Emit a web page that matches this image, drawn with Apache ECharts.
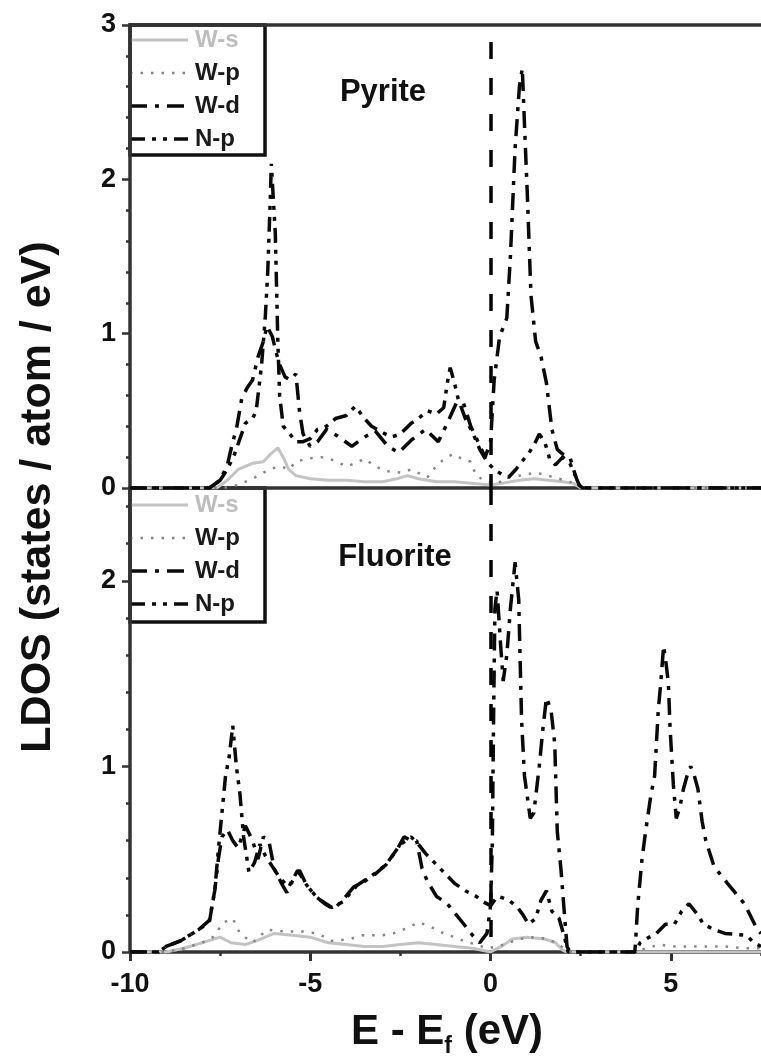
<!DOCTYPE html>
<html>
<head>
<meta charset="utf-8">
<script src="https://cdn.jsdelivr.net/npm/echarts@6/dist/echarts.min.js"></script>
<style>
  html, body { margin: 0; padding: 0; background: #fff; }
  #chart { width: 761px; height: 1058px; }
</style>
</head>
<body>
<div id="chart"></div>
<script>
// Energy axis (E - Ef, eV) and LDOS ranges of the two panels
const energyRange = [-10, 7.5];
const energyTicks = 5;
const pyriteRange = [0, 3];
const fluoriteRange = [0, 2.5];
const orbitals = ['W-s', 'W-p', 'W-d', 'N-p'];
const panelTitles = ['Pyrite', 'Fluorite'];

// Pyrite LDOS, [E - Ef, states/atom/eV]
const pyriteWs = [[-10,0],[-7.6,0],[-7.3,0.05],[-7.0,0.12],[-6.6,0.16],[-6.3,0.17],[-6.1,0.22],[-5.9,0.26],[-5.75,0.2],[-5.6,0.12],[-5.4,0.08],[-5.0,0.06],[-4.5,0.05],[-4.0,0.05],[-3.5,0.04],[-3.0,0.04],[-2.6,0.06],[-2.3,0.08],[-2.0,0.06],[-1.5,0.04],[-1.0,0.04],[-0.5,0.03],[0,0.02],[0.3,0.03],[0.8,0.05],[1.2,0.06],[1.6,0.05],[2.0,0.04],[2.3,0.03],[2.5,0],[7.5,0]];
const pyriteWp = [[-10,0],[-7.4,0],[-7.0,0.02],[-6.6,0.06],[-6.3,0.1],[-6.0,0.13],[-5.8,0.14],[-5.6,0.12],[-5.4,0.17],[-5.1,0.19],[-4.7,0.2],[-4.35,0.18],[-4.0,0.14],[-3.75,0.16],[-3.5,0.19],[-3.2,0.14],[-2.9,0.11],[-2.5,0.1],[-2.2,0.12],[-1.75,0.07],[-1.45,0.16],[-1.05,0.22],[-0.8,0.19],[-0.55,0.17],[-0.4,0.08],[-0.1,0.04],[0.2,0.03],[0.5,0.07],[0.8,0.08],[1.25,0.1],[1.6,0.08],[1.9,0.06],[2.2,0.04],[2.4,0.02],[2.6,0],[7.5,0]];
const pyriteWd = [[-10,0],[-7.8,0],[-7.5,0.05],[-7.3,0.15],[-7.15,0.3],[-7.05,0.38],[-6.9,0.58],[-6.75,0.65],[-6.6,0.7],[-6.45,0.85],[-6.3,0.95],[-6.2,1.05],[-6.05,0.98],[-5.95,0.88],[-5.85,0.8],[-5.7,0.72],[-5.55,0.7],[-5.4,0.74],[-5.3,0.5],[-5.2,0.35],[-5.0,0.27],[-4.8,0.3],[-4.55,0.38],[-4.2,0.33],[-3.85,0.27],[-3.5,0.33],[-3.2,0.37],[-2.85,0.27],[-2.55,0.23],[-2.2,0.31],[-1.8,0.38],[-1.45,0.3],[-1.2,0.42],[-0.95,0.55],[-0.75,0.55],[-0.55,0.4],[-0.35,0.3],[-0.15,0.2],[0.0,0.3],[0.1,0.7],[0.25,0.98],[0.45,1.1],[0.55,1.5],[0.68,2.2],[0.8,2.6],[0.88,2.72],[0.95,2.3],[1.02,1.9],[1.12,1.25],[1.25,0.95],[1.4,0.85],[1.55,0.68],[1.7,0.38],[1.85,0.25],[2.0,0.22],[2.2,0.2],[2.3,0.12],[2.4,0.05],[2.5,0],[7.5,0]];
const pyriteNp = [[-10,0],[-7.8,0],[-7.5,0.05],[-7.3,0.12],[-7.1,0.22],[-6.95,0.32],[-6.8,0.42],[-6.6,0.45],[-6.5,0.5],[-6.35,0.8],[-6.25,1.1],[-6.18,1.4],[-6.12,1.8],[-6.08,2.1],[-6.02,1.85],[-5.97,1.65],[-5.9,0.95],[-5.85,0.6],[-5.75,0.4],[-5.6,0.36],[-5.4,0.3],[-5.2,0.3],[-5.0,0.32],[-4.8,0.38],[-4.55,0.4],[-4.3,0.45],[-4.0,0.47],[-3.75,0.53],[-3.5,0.45],[-3.3,0.4],[-3.0,0.36],[-2.75,0.33],[-2.5,0.35],[-2.2,0.42],[-2.0,0.45],[-1.75,0.5],[-1.5,0.48],[-1.3,0.52],[-1.2,0.68],[-1.12,0.78],[-1.0,0.68],[-0.9,0.58],[-0.7,0.45],[-0.5,0.36],[-0.3,0.25],[-0.1,0.17],[0.1,0.12],[0.3,0.09],[0.5,0.07],[0.7,0.12],[0.9,0.18],[1.1,0.24],[1.25,0.3],[1.35,0.35],[1.5,0.3],[1.65,0.18],[1.8,0.15],[2.0,0.2],[2.2,0.16],[2.35,0.08],[2.45,0.02],[2.55,0],[7.5,0]];

// Fluorite LDOS, [E - Ef, states/atom/eV]
const fluoriteWs = [[-10,0],[-9.0,0],[-8.5,0.02],[-8.0,0.05],[-7.5,0.08],[-7.2,0.05],[-6.8,0.04],[-6.5,0.06],[-6.0,0.1],[-5.5,0.09],[-5.0,0.08],[-4.5,0.05],[-4.0,0.04],[-3.5,0.03],[-3.0,0.03],[-2.5,0.04],[-2.0,0.05],[-1.5,0.04],[-1.0,0.03],[-0.5,0.02],[0,0],[0.3,0.03],[0.6,0.07],[1.0,0.08],[1.5,0.07],[1.8,0.05],[2.0,0.01],[2.1,0],[7.5,0]];
const fluoriteWp = [[-10,0],[-9.0,0],[-8.5,0.02],[-8.0,0.05],[-7.7,0.08],[-7.4,0.16],[-7.15,0.18],[-6.95,0.1],[-6.6,0.05],[-6.2,0.12],[-5.7,0.11],[-5.2,0.11],[-4.8,0.1],[-4.4,0.06],[-3.9,0.07],[-3.55,0.09],[-3.0,0.09],[-2.7,0.1],[-2.3,0.13],[-2.0,0.16],[-1.7,0.14],[-1.3,0.1],[-1.0,0.08],[-0.75,0.06],[-0.4,0.04],[-0.1,0.02],[0.2,0.03],[0.5,0.05],[0.8,0.07],[1.2,0.08],[1.6,0.07],[1.9,0.04],[2.1,0.01],[2.2,0],[4.0,0],[4.3,0.02],[4.7,0.04],[5.0,0.03],[5.5,0.03],[6.0,0.03],[6.5,0.03],[7.0,0.02],[7.5,0.02]];
const fluoriteWd = [[-10,0],[-9.2,0],[-9.0,0.03],[-8.6,0.06],[-8.1,0.12],[-7.8,0.17],[-7.65,0.33],[-7.55,0.5],[-7.45,0.62],[-7.3,0.66],[-7.15,0.6],[-7.0,0.56],[-6.8,0.68],[-6.6,0.6],[-6.45,0.5],[-6.3,0.62],[-6.15,0.6],[-6.0,0.45],[-5.8,0.37],[-5.65,0.32],[-5.45,0.4],[-5.3,0.44],[-5.1,0.36],[-4.85,0.3],[-4.6,0.26],[-4.35,0.23],[-4.1,0.28],[-3.8,0.35],[-3.5,0.38],[-3.2,0.42],[-2.9,0.47],[-2.6,0.55],[-2.4,0.62],[-2.2,0.6],[-2.05,0.6],[-1.9,0.45],[-1.75,0.38],[-1.5,0.3],[-1.2,0.26],[-0.95,0.2],[-0.7,0.14],[-0.5,0.09],[-0.3,0.05],[-0.1,0.1],[0.0,0.25],[0.05,0.6],[0.08,1.2],[0.12,1.85],[0.18,1.95],[0.28,1.65],[0.35,1.46],[0.45,1.6],[0.55,1.85],[0.68,2.1],[0.78,1.9],[0.86,1.25],[0.94,0.95],[1.1,0.72],[1.2,0.75],[1.35,1.0],[1.45,1.2],[1.55,1.37],[1.68,1.3],[1.78,1.12],[1.85,0.65],[1.95,0.45],[2.05,0.2],[2.12,0.03],[2.2,0],[4.0,0],[4.02,0.05],[4.08,0.25],[4.2,0.5],[4.3,0.65],[4.45,0.85],[4.55,0.95],[4.65,1.3],[4.72,1.45],[4.8,1.65],[4.87,1.55],[4.93,1.45],[4.98,1.2],[5.07,0.9],[5.15,0.72],[5.25,0.78],[5.35,0.88],[5.45,0.95],[5.55,1.0],[5.65,0.95],[5.75,0.88],[5.87,0.7],[5.97,0.6],[6.2,0.46],[6.57,0.37],[7.04,0.26],[7.4,0.12],[7.5,0.1]];
const fluoriteNp = [[-10,0],[-9.2,0],[-9.0,0.03],[-8.6,0.06],[-8.1,0.12],[-7.8,0.16],[-7.65,0.33],[-7.55,0.55],[-7.45,0.75],[-7.35,0.95],[-7.25,1.05],[-7.15,1.22],[-7.05,1.0],[-6.95,0.85],[-6.85,0.62],[-6.7,0.43],[-6.55,0.48],[-6.4,0.58],[-6.25,0.52],[-6.05,0.46],[-5.85,0.4],[-5.6,0.35],[-5.35,0.44],[-5.1,0.36],[-4.8,0.29],[-4.4,0.24],[-4.1,0.27],[-3.7,0.36],[-3.3,0.41],[-2.9,0.47],[-2.5,0.58],[-2.2,0.62],[-2.0,0.58],[-1.8,0.53],[-1.6,0.49],[-1.3,0.43],[-1.0,0.37],[-0.7,0.33],[-0.4,0.3],[-0.2,0.27],[0,0.25],[0.2,0.3],[0.5,0.28],[0.75,0.24],[0.9,0.2],[1.05,0.15],[1.25,0.18],[1.4,0.28],[1.55,0.33],[1.7,0.22],[1.9,0.18],[2.05,0.08],[2.15,0],[4.0,0],[4.15,0.05],[4.4,0.08],[4.6,0.1],[4.85,0.15],[5.1,0.15],[5.3,0.22],[5.5,0.26],[5.75,0.2],[5.9,0.15],[6.2,0.12],[6.5,0.1],[7.1,0.09],[7.3,0.05],[7.5,0.03]];

// Line styles shared by the curves and the legend keys
const FONT = '"Liberation Sans", Arial, sans-serif';
const lineStyles = {
  'W-s': { color: '#c3c3c3', width: 3, type: 'solid' },
  'W-p': { color: '#858585', width: 2.5, type: [2.5, 8] },
  'W-d': { color: '#0a0a0a', width: 3.5, type: [17, 8, 4, 8] },
  'N-p': { color: '#0a0a0a', width: 3.5, type: [15, 7, 4, 7, 4, 7] }
};
const legendTextColor = { 'W-s': '#bdbdbd', 'W-p': '#1a1a1a', 'W-d': '#1a1a1a', 'N-p': '#1a1a1a' };

const panels = [
  { data: [pyriteWs, pyriteWp, pyriteWd, pyriteNp], fermiTop: 2.89 },
  { data: [fluoriteWs, fluoriteWp, fluoriteWd, fluoriteNp], fermiTop: 2.5 }
];

// Layout (pixels)
const L = 130, T = 25, MID = 488, B = 952;
const AXIS_COLOR = '#333';

const series = [];
panels.forEach((p, pi) => {
  orbitals.forEach((name, oi) => {
    const s = {
      name, type: 'line', xAxisIndex: pi, yAxisIndex: pi,
      data: p.data[oi], symbol: 'none', showSymbol: false,
      lineStyle: { color: lineStyles[name].color, width: lineStyles[name].width, type: lineStyles[name].type, cap: 'butt' },
      itemStyle: { color: lineStyles[name].color },
      z: 2 + oi, silent: true
    };
    if (name === 'W-d') {
      // Fermi level
      s.markLine = {
        silent: true, symbol: ['none', 'none'], label: { show: false },
        lineStyle: { color: '#000', width: 3.5, type: [17, 19] },
        data: [[{ coord: [0, p.fermiTop] }, { coord: [0, 0] }]]
      };
    }
    series.push(s);
  });
});

const tickLabel = { fontSize: 27, fontWeight: 'bold', color: '#111', fontFamily: FONT };

const xAxes = [
  { gridIndex: 0, type: 'value', position: 'bottom', min: energyRange[0], max: energyRange[1], interval: energyTicks,
    axisLine: { onZero: false, lineStyle: { color: AXIS_COLOR, width: 3.5 } },
    axisTick: { show: false }, axisLabel: { show: false }, splitLine: { show: false } },
  { gridIndex: 1, type: 'value', position: 'bottom', min: energyRange[0], max: energyRange[1], interval: energyTicks,
    axisLine: { onZero: false, lineStyle: { color: AXIS_COLOR, width: 3.5 } },
    axisTick: { show: true, inside: false, length: 9, lineStyle: { color: AXIS_COLOR, width: 3 } },
    axisLabel: Object.assign({ margin: 19, showMaxLabel: false }, tickLabel),
    splitLine: { show: false } },
  // minor ticks every 2.5 eV
  { gridIndex: 1, type: 'value', position: 'bottom', min: energyRange[0], max: energyRange[1], interval: energyTicks / 2,
    axisLine: { show: false, onZero: false }, axisTick: { show: true, length: 4, lineStyle: { color: AXIS_COLOR, width: 2.5 } },
    axisLabel: { show: false }, splitLine: { show: false } },
  // top frame line
  { gridIndex: 0, type: 'value', position: 'top', min: energyRange[0], max: energyRange[1],
    axisLine: { show: true, onZero: false, lineStyle: { color: AXIS_COLOR, width: 3.5 } },
    axisTick: { show: false }, axisLabel: { show: false }, splitLine: { show: false } }
];

const yAxes = [
  { gridIndex: 0, type: 'value', position: 'left', min: pyriteRange[0], max: pyriteRange[1], interval: 1,
    axisLine: { onZero: false, lineStyle: { color: AXIS_COLOR, width: 3.5 } },
    axisTick: { length: 8, lineStyle: { color: AXIS_COLOR, width: 2.5 } },
    minorTick: { show: true, splitNumber: 5, length: 4, lineStyle: { color: AXIS_COLOR, width: 2.5 } },
    axisLabel: Object.assign({ margin: 14 }, tickLabel), splitLine: { show: false } },
  { gridIndex: 1, type: 'value', position: 'left', min: fluoriteRange[0], max: fluoriteRange[1], interval: 1,
    axisLine: { onZero: false, lineStyle: { color: AXIS_COLOR, width: 3.5 } },
    axisTick: { length: 8, lineStyle: { color: AXIS_COLOR, width: 2.5 } },
    axisLabel: Object.assign({ margin: 14, showMaxLabel: false }, tickLabel), splitLine: { show: false } },
  // minor ticks every 0.2
  { gridIndex: 1, type: 'value', position: 'left', min: fluoriteRange[0], max: fluoriteRange[1], interval: 0.2,
    axisLine: { show: false, onZero: false }, axisTick: { length: 4, lineStyle: { color: AXIS_COLOR, width: 2.5 } },
    axisLabel: { show: false }, splitLine: { show: false } }
];

// Legend boxes drawn as graphics so the dash keys match the curves
function legendBox(top, firstY, height) {
  const children = [{
    type: 'rect', shape: { x: L, y: top, width: 135, height },
    style: { fill: '#fff', stroke: '#111', lineWidth: 3.5 }
  }];
  orbitals.forEach((name, i) => {
    const cy = firstY + i * 33;
    const st = lineStyles[name];
    children.push({
      type: 'line', shape: { x1: L, y1: cy, x2: L + 58, y2: cy },
      style: { stroke: st.color, lineWidth: st.width, lineDash: Array.isArray(st.type) ? st.type : null }
    });
    children.push({
      type: 'text', x: L + 65, y: cy,
      style: { text: name, font: 'bold 24px ' + FONT, fill: legendTextColor[name], verticalAlign: 'middle', align: 'left' }
    });
  });
  return { type: 'group', z: 100, children };
}

// Axis title with subscript, laid out with measured widths
const ctx = document.createElement('canvas').getContext('2d');
ctx.font = 'bold 42px ' + FONT; const w1 = ctx.measureText('E - E').width;
ctx.font = 'bold 23px ' + FONT; const w2 = ctx.measureText('f').width;
ctx.font = 'bold 42px ' + FONT; const w3 = ctx.measureText(' (eV)').width;
const xTitleCx = 447, xTitleCy = 1032;
const x0 = xTitleCx - (w1 + w2 + w3) / 2;

const graphic = [
  legendBox(T, 40, 130),
  legendBox(MID, 505, 134),
  { type: 'text', x: 383, y: 92, z: 50, style: { text: panelTitles[0], font: 'bold 31px ' + FONT, fill: '#111', align: 'center', verticalAlign: 'middle' } },
  { type: 'text', x: 395, y: 557, z: 50, style: { text: panelTitles[1], font: 'bold 31px ' + FONT, fill: '#111', align: 'center', verticalAlign: 'middle' } },
  { type: 'text', x: 38, y: 497, rotation: Math.PI / 2, z: 50,
    style: { text: 'LDOS (states / atom / eV)', font: 'bold 43px ' + FONT, fill: '#111', align: 'center', verticalAlign: 'middle' } },
  { type: 'text', x: x0, y: xTitleCy, z: 50, style: { text: 'E - E', font: 'bold 42px ' + FONT, fill: '#111', align: 'left', verticalAlign: 'middle' } },
  { type: 'text', x: x0 + w1, y: xTitleCy + 15, z: 50, style: { text: 'f', font: 'bold 23px ' + FONT, fill: '#111', align: 'left', verticalAlign: 'middle' } },
  { type: 'text', x: x0 + w1 + w2, y: xTitleCy, z: 50, style: { text: ' (eV)', font: 'bold 42px ' + FONT, fill: '#111', align: 'left', verticalAlign: 'middle' } }
];

const chart = echarts.init(document.getElementById('chart'), null, { renderer: 'canvas' });
chart.setOption({
  animation: false,
  backgroundColor: '#fff',
  grid: [
    { left: L, top: T, right: -3, height: MID - T },
    { left: L, top: MID, right: -3, height: B - MID }
  ],
  xAxis: xAxes,
  yAxis: yAxes,
  series,
  graphic
});
</script>
</body>
</html>
